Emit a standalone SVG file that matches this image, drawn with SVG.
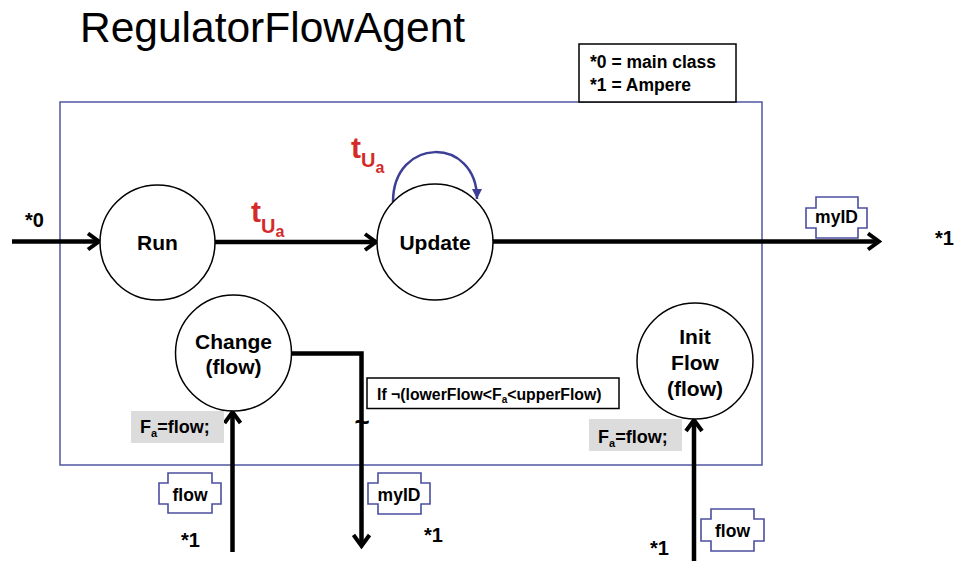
<svg xmlns="http://www.w3.org/2000/svg" width="958" height="561" viewBox="0 0 958 561">
<style>
  text { font-family: "Liberation Sans", Arial, sans-serif; fill: #000; }
  .b { font-weight: bold; }
  .node { fill: #fff; stroke: #000; stroke-width: 1.5; }
  .nt { font-weight: bold; font-size: 21px; text-anchor: middle; }
  .conn { fill: none; stroke: #000; stroke-width: 4.5; }
  .tag { fill: #fff; stroke: #4b4f9e; stroke-width: 1.6; }
  .tt { font-weight: bold; font-size: 17.5px; text-anchor: middle; }
  .gray { fill: #dcdcdc; }
  .red { fill: #d42a2a; font-weight: bold; }
  .star { font-weight: bold; font-size: 20px; }
</style>
<defs>
  <marker id="ah" markerUnits="userSpaceOnUse" viewBox="0 0 16 20" refX="13" refY="10" markerWidth="16" markerHeight="20" orient="auto">
    <path d="M2,2 L13,10 L2,18" fill="none" stroke="#000" stroke-width="4"/>
  </marker>
  <marker id="ahb" markerUnits="userSpaceOnUse" viewBox="0 0 12 12" refX="10" refY="6" markerWidth="12" markerHeight="12" orient="auto">
    <path d="M0,1 L10,6 L0,11 Z" fill="#3d3f96"/>
  </marker>
</defs>
<rect width="958" height="561" fill="#fff"/>

<g id="title">
  <text x="80" y="42" font-size="42.5">RegulatorFlowAgent</text>
</g>

<g id="frame">
  <rect x="60" y="102" width="702" height="363" fill="none" stroke="#5257a3" stroke-width="1.5"/>
</g>

<g id="legend">
  <rect x="579" y="44" width="157" height="58" fill="#fff" stroke="#000" stroke-width="1.5"/>
  <text class="b" x="590" y="68" font-size="17.5">*0 = main class</text>
  <text class="b" x="590" y="91" font-size="17.5">*1 = Ampere</text>
</g>

<g id="connectors">
  <line class="conn" x1="12" y1="241.5" x2="99" y2="241.5" marker-end="url(#ah)"/>
  <line class="conn" x1="215" y1="242" x2="376" y2="242" marker-end="url(#ah)"/>
  <line class="conn" x1="493" y1="241.5" x2="879" y2="241.5" marker-end="url(#ah)"/>
  <path d="M393,202 C393,136 477,136 477,199" fill="none" stroke="#3d3f96" stroke-width="2.5" marker-end="url(#ahb)"/>
  <polyline class="conn" points="291,353.5 361.5,353.5 361.5,546" marker-end="url(#ah)"/>
  <line class="conn" x1="232.5" y1="552" x2="232.5" y2="412" marker-end="url(#ah)"/>
  <line class="conn" x1="694" y1="561" x2="694" y2="420" marker-end="url(#ah)"/>
</g>

<g id="run">
  <circle class="node" cx="157.5" cy="242.5" r="57.5"/>
  <text class="nt" x="157.5" y="250">Run</text>
</g>

<g id="update">
  <circle class="node" cx="435" cy="242" r="58"/>
  <text class="nt" x="435" y="250">Update</text>
</g>

<g id="change">
  <circle class="node" cx="233.5" cy="353" r="58"/>
  <text class="nt" x="233.5" y="349">Change</text>
  <text class="nt" x="233.5" y="373.5">(flow)</text>
</g>

<g id="initflow">
  <circle class="node" cx="695" cy="361" r="58"/>
  <text class="nt" x="695" y="343.5">Init</text>
  <text class="nt" x="695" y="370">Flow</text>
  <text class="nt" x="695" y="396">(flow)</text>
</g>

<g id="labels">
  <text class="red" x="251" y="222" font-size="30">t<tspan font-size="20" dy="11">U</tspan><tspan font-size="16" dy="4">a</tspan></text>
  <text class="red" x="351" y="158" font-size="30">t<tspan font-size="20" dy="9">U</tspan><tspan font-size="16" dy="6">a</tspan></text>
  <text class="star" x="25" y="227">*0</text>
  <text class="star" x="935" y="245">*1</text>
  <text class="star" x="181" y="547">*1</text>
  <text class="star" x="424" y="542">*1</text>
  <text class="star" x="650" y="555">*1</text>
  <text class="b" x="362" y="431" font-size="26" text-anchor="middle">~</text>
</g>

<g id="condition">
  <rect x="367" y="378" width="252" height="30.5" fill="#fff" stroke="#000" stroke-width="1.5"/>
  <text class="b" x="377" y="400" font-size="15.8">If ¬(lowerFlow&lt;F<tspan font-size="10" dy="3">a</tspan><tspan dy="-3">&lt;upperFlow)</tspan></text>
</g>

<g id="assign1">
  <rect class="gray" x="131" y="411" width="93" height="32"/>
  <text class="b" x="140" y="433" font-size="18">F<tspan font-size="11" dy="4">a</tspan><tspan dy="-4">=flow;</tspan></text>
</g>

<g id="assign2">
  <rect class="gray" x="589" y="419" width="93" height="32"/>
  <text class="b" x="598" y="443" font-size="18">F<tspan font-size="11" dy="4">a</tspan><tspan dy="-4">=flow;</tspan></text>
</g>

<g id="tag-myid-top">
  <polygon class="tag" points="816,197 858,197 858,208 867,208 867,228 858,228 858,238 816,238 816,228 806,228 806,208 816,208"/>
  <text class="tt" x="836.5" y="223">myID</text>
</g>

<g id="tag-flow-left">
  <polygon class="tag" points="168,473 212,473 212,483 221,483 221,504 212,504 212,513 168,513 168,504 159,504 159,483 168,483"/>
  <text class="tt" x="190" y="500.5">flow</text>
</g>

<g id="tag-myid-bottom">
  <polygon class="tag" points="378,473 421,473 421,483 430,483 430,504 421,504 421,514 378,514 378,504 368,504 368,483 378,483"/>
  <text class="tt" x="399" y="500.5">myID</text>
</g>

<g id="tag-flow-right">
  <polygon class="tag" points="711,509 754,509 754,519 764,519 764,541 754,541 754,551 711,551 711,541 701,541 701,519 711,519"/>
  <text class="tt" x="732.5" y="537">flow</text>
</g>
</svg>
